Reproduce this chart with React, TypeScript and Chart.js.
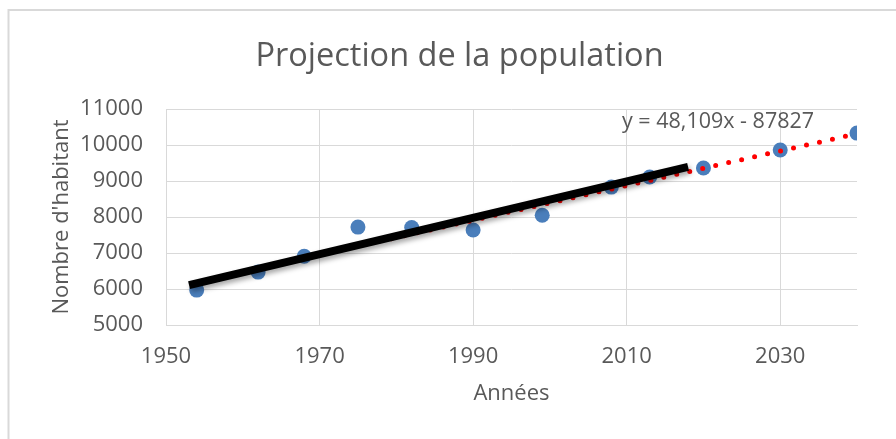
import React, { useEffect, useRef } from "react";
import { Chart, registerables } from "chart.js";

Chart.register(...registerables);

const years = [1954, 1962, 1968, 1975, 1982, 1990, 1999, 2008, 2013, 2020, 2030, 2040];
const population = [5970, 6470, 6910, 7720, 7710, 7640, 8050, 8830, 9110, 9360, 9860, 10330];

// Excel linear trendline (y = 48,109x - 87827), endpoints at the data range
const trendYears = [1954, 2040];
const trendValues = [6178, 10315];

// Hand-drawn black line
const lineYears = [1953, 2018];
const lineValues = [6110, 9390];

const xTicks = [1950, 1970, 1990, 2010, 2030];
const yTicks = [5000, 6000, 7000, 8000, 9000, 10000, 11000];

const titleText = "Projection de la population";
const xTitle = "Années";
const yTitle = "Nombre d'habitant";
const equationText = "y = 48,109x - 87827";

const FONT = "'Open Sans', 'Noto Sans', sans-serif";
const TEXT = "#595959";
const GRID = "#d9d9d9";

export default function App() {
  const ref = useRef<HTMLCanvasElement | null>(null);

  useEffect(() => {
    const canvas = ref.current;
    if (!canvas) return;

    const framePlugin = {
      id: "frame",
      beforeDraw(chart: any) {
        const ctx = chart.ctx;
        ctx.save();
        ctx.strokeStyle = GRID;
        ctx.lineWidth = 2;
        ctx.beginPath();
        ctx.moveTo(8.5, 439);
        ctx.lineTo(8.5, 10);
        ctx.lineTo(896, 10);
        ctx.stroke();
        ctx.restore();
      },
      afterDraw(chart: any) {
        const ctx = chart.ctx;
        ctx.save();
        ctx.font = `21.5px ${FONT}`;
        ctx.fillStyle = TEXT;
        ctx.textAlign = "left";
        ctx.textBaseline = "middle";
        ctx.fillText(equationText, 622, 122);
        ctx.restore();
      },
    };

    const shadowPlugin = {
      id: "lineShadow",
      beforeDatasetDraw(chart: any, args: any) {
        if (args.index !== 0) return;
        const ctx = chart.ctx;
        ctx.save();
        ctx.shadowColor = "rgba(0,0,0,0.35)";
        ctx.shadowBlur = 5;
        ctx.shadowOffsetX = 2;
        ctx.shadowOffsetY = 3;
      },
      afterDatasetDraw(chart: any, args: any) {
        if (args.index !== 0) return;
        chart.ctx.restore();
      },
    };

    const chart = new Chart(canvas, {
      type: "scatter",
      data: {
        datasets: [
          {
            label: "Ligne",
            type: "line",
            data: lineYears.map((x, i) => ({ x, y: lineValues[i] })),
            borderColor: "#000000",
            borderWidth: 8,
            pointRadius: 0,
            borderCapStyle: "butt",
            order: 0,
          } as any,
          {
            label: "Tendance",
            type: "line",
            data: trendYears.map((x, i) => ({ x, y: trendValues[i] })),
            borderColor: "#ff0000",
            borderWidth: 5,
            borderDash: [0, 13.3],
            borderCapStyle: "round",
            pointRadius: 0,
            order: 1,
          } as any,
          {
            label: "Population",
            data: years.map((x, i) => ({ x, y: population[i] })),
            backgroundColor: "#4a7ebb",
            borderColor: "#4a7ebb",
            pointRadius: 7.5,
            borderWidth: 0,
            order: 2,
          },
        ],
      },
      options: {
        animation: false,
        responsive: false,
        devicePixelRatio: 1,
        layout: { padding: { left: 23, right: 0, top: 0, bottom: 0 } },
        plugins: {
          legend: { display: false },
          tooltip: { enabled: false },
          title: {
            display: true,
            text: titleText,
            color: TEXT,
            font: { family: FONT, size: 32.5, weight: "normal" },
            padding: { top: 37, bottom: 33 },
          },
        },
        scales: {
          x: {
            type: "linear",
            min: 1950,
            max: 2040,
            afterFit(scale: any) {
              scale.height = 114;
            },
            afterBuildTicks(scale: any) {
              scale.ticks = xTicks.map((value) => ({ value }));
            },
            ticks: {
              color: TEXT,
              font: { family: FONT, size: 22 },
              padding: 18.8,
              maxRotation: 0,
              autoSkip: false,
              callback: (v: any) => String(v),
            },
            grid: { color: GRID, lineWidth: 1, drawTicks: false },
            border: { color: GRID, width: 1 },
            title: {
              display: true,
              text: xTitle,
              color: TEXT,
              font: { family: FONT, size: 22 },
              padding: { top: 0, bottom: 31.8 },
            },
          },
          y: {
            type: "linear",
            min: 5000,
            max: 11000,
            afterFit(scale: any) {
              scale.width = 143;
            },
            afterBuildTicks(scale: any) {
              scale.ticks = yTicks.map((value) => ({ value }));
            },
            ticks: {
              color: TEXT,
              font: { family: FONT, size: 22 },
              padding: 23,
              autoSkip: false,
              callback: (v: any) => String(v),
            },
            grid: { color: GRID, lineWidth: 1, drawTicks: false },
            border: { display: false },
            title: {
              display: true,
              text: yTitle,
              color: TEXT,
              font: { family: FONT, size: 22 },
              padding: { top: 25.8, bottom: 0 },
            },
          },
          y2: {
            type: "linear",
            position: "right",
            display: true,
            afterFit(scale: any) {
              scale.width = 39;
            },
            ticks: { display: false },
            grid: { display: false, drawTicks: false },
            border: { display: false },
          },
        },
      },
      plugins: [framePlugin, shadowPlugin],
    });

    return () => chart.destroy();
  }, []);

  return (
    <div style={{ position: "absolute", left: 0, top: 0, width: 896, height: 439, background: "#ffffff" }}>
      <canvas ref={ref} width={896} height={439} style={{ display: "block", width: 896, height: 439 }} />
    </div>
  );
}
